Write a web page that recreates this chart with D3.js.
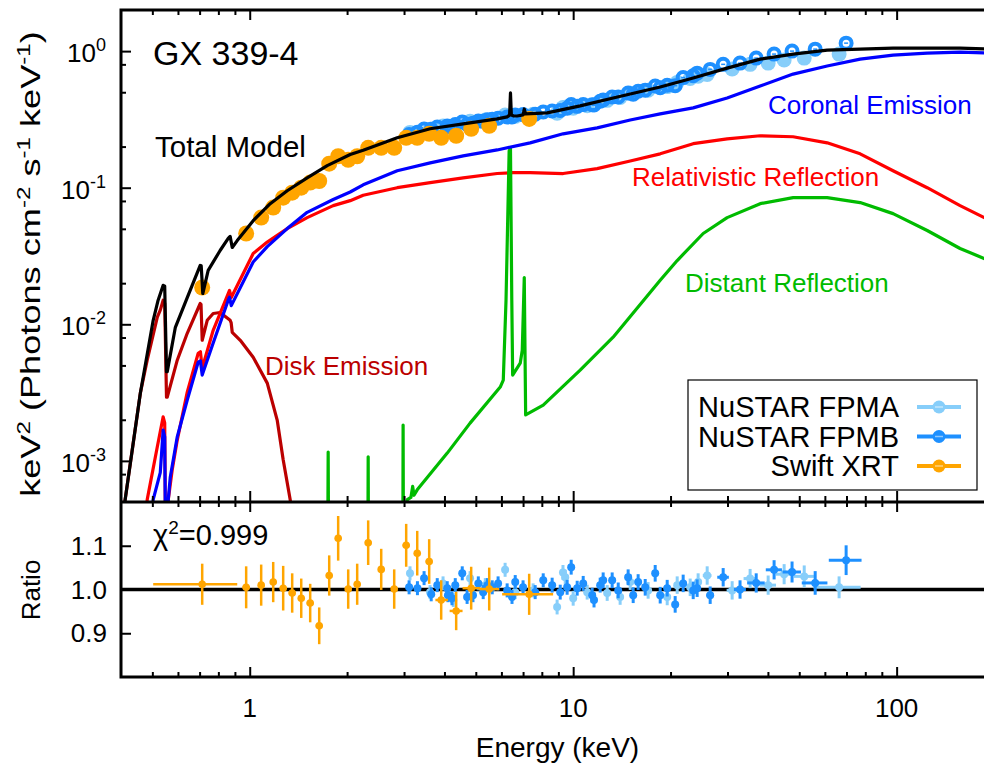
<!DOCTYPE html>
<meta charset="utf-8">
<script src="https://d3js.org/d3.v7.min.js"></script>
<style>
body { margin: 0; background: #fff; }
svg { display: block; }
text { font-family: "Liberation Sans", Arial, Helvetica, sans-serif; fill: #000; }
</style>
<div id="chart"></div>
<script>
// ---- model components, [energy keV, keV^2 photons cm^-2 s^-1 keV^-1] ----
const modelTotal = [
  [0.40, 3.0e-4], [0.412, 5.2e-4], [0.459, 3.13e-3], [0.503, 0.0107], [0.521, 0.0150],
  [0.540, 0.0193], [0.546, 0.0190], [0.553, 0.0045], [0.556, 0.0045], [0.589, 0.0095],
  [0.641, 0.0157], [0.703, 0.0270], [0.708, 0.0268], [0.716, 0.0168], [0.744, 0.0248],
  [0.810, 0.0347], [0.858, 0.0425], [0.870, 0.0440], [0.883, 0.0365], [0.915, 0.0410],
  [1.025, 0.0574], [1.157, 0.0764], [1.306, 0.0950], [1.505, 0.118], [1.736, 0.145],
  [2.045, 0.175], [2.243, 0.188], [2.858, 0.232], [3.614, 0.270], [4.571, 0.293],
  [5.822, 0.319], [6.25, 0.330], [6.36, 0.340], [6.40, 0.494], [6.44, 0.340],
  [6.55, 0.335], [6.71, 0.335], [7.00, 0.341], [7.06, 0.377], [7.12, 0.347],
  [8.31, 0.353], [10.51, 0.397], [13.29, 0.454], [18.58, 0.546], [23.50, 0.635],
  [29.92, 0.751], [37.86, 0.874], [47.86, 0.951], [60.99, 1.017], [77.13, 1.034],
  [97.5, 1.052], [124.3, 1.052], [157.1, 1.052], [200, 1.034]
];
const modelCoronal = [
  [0.495, 3.0e-4], [0.503, 5.2e-4], [0.529, 8.2e-4], [0.540, 1.68e-3], [0.546, 1.5e-3],
  [0.549, 3.0e-4], [0.556, 3.0e-4], [0.560, 5.2e-4], [0.568, 7.6e-4], [0.597, 1.50e-3],
  [0.641, 2.79e-3], [0.693, 5.28e-3], [0.704, 5.4e-3], [0.713, 4.25e-3], [0.771, 7.3e-3],
  [0.858, 0.0150], [0.866, 0.0158], [0.877, 0.0137], [1.025, 0.0286], [1.133, 0.0370],
  [1.306, 0.0502], [1.505, 0.0660], [1.812, 0.0820], [2.045, 0.0930], [2.243, 0.105],
  [2.858, 0.133], [3.614, 0.152], [4.571, 0.171], [5.822, 0.189], [7.36, 0.213],
  [9.31, 0.248], [11.86, 0.274], [15.01, 0.313], [18.58, 0.347], [23.50, 0.384],
  [29.92, 0.454], [37.86, 0.555], [47.86, 0.679], [60.99, 0.778], [77.13, 0.874],
  [97.5, 0.935], [124.3, 0.967], [157.1, 0.983], [200, 0.967]
];
const modelRelRefl = [
  [0.475, 3.0e-4], [0.482, 5.2e-4], [0.518, 1.27e-3], [0.540, 2.1e-3], [0.546, 1.9e-3],
  [0.549, 3.0e-4], [0.553, 3.0e-4], [0.560, 5.2e-4], [0.576, 8.6e-4], [0.597, 1.42e-3],
  [0.641, 3.19e-3], [0.693, 6.14e-3], [0.704, 6.3e-3], [0.713, 4.77e-3], [0.771, 9.04e-3],
  [0.858, 0.0168], [0.866, 0.0177], [0.877, 0.0157], [1.025, 0.0330], [1.133, 0.0400],
  [1.306, 0.0502], [1.505, 0.0604], [1.812, 0.0739], [2.045, 0.0804], [2.243, 0.0880],
  [2.858, 0.100], [3.614, 0.109], [4.571, 0.118], [5.822, 0.127], [6.52, 0.129],
  [7.36, 0.129], [9.31, 0.127], [11.86, 0.138], [15.01, 0.157], [18.58, 0.177],
  [23.50, 0.210], [29.92, 0.228], [37.86, 0.240], [47.86, 0.236], [60.99, 0.213],
  [77.13, 0.177], [97.5, 0.133], [124.3, 0.100], [157.1, 0.0739], [200, 0.0556]
];
const modelDistRefl = [
  [1.740, 1e-4], [1.748, 1.16e-3], [1.756, 1e-4],
  [2.316, 1e-4], [2.324, 1.07e-3], [2.332, 1e-4],
  [2.972, 1e-4], [2.980, 1.83e-3], [2.990, 1e-4],
  [3.05, 3.0e-4], [3.07, 5.2e-4], [3.15, 5.4e-4], [3.19, 6.5e-4], [3.22, 5.6e-4],
  [3.295, 6.14e-4], [4.08, 1.14e-3], [4.80, 1.89e-3], [5.95, 3.47e-3], [6.08, 3.90e-3],
  [6.20, 0.0150], [6.34, 0.186], [6.40, 0.193], [6.46, 0.0150], [6.50, 4.25e-3],
  [6.86, 5.19e-3], [6.96, 6.45e-3], [7.06, 0.0220], [7.13, 2.17e-3], [8.08, 2.56e-3],
  [10.51, 4.62e-3], [13.29, 8.04e-3], [18.58, 0.0210], [20.97, 0.0293], [25.23, 0.0462],
  [29.92, 0.0604], [37.86, 0.0764], [47.86, 0.0846], [60.99, 0.0846], [77.13, 0.0778],
  [97.5, 0.0646], [124.3, 0.0486], [157.1, 0.0359], [200, 0.0283]
];
const modelDisk = [
  [0.40, 3.0e-4], [0.412, 5.2e-4], [0.459, 3.13e-3], [0.482, 5.46e-3], [0.518, 0.0113],
  [0.529, 0.0127], [0.540, 0.0150], [0.546, 0.0142], [0.553, 2.93e-3], [0.556, 2.93e-3],
  [0.597, 5.46e-3], [0.641, 8.59e-3], [0.703, 0.0142], [0.707, 0.0140], [0.713, 7.64e-3],
  [0.739, 0.0107], [0.771, 0.0120], [0.810, 0.0122], [0.870, 0.0107], [0.876, 0.0103],
  [0.883, 8.74e-3], [0.935, 7.64e-3], [1.025, 5.74e-3], [1.133, 3.71e-3], [1.216, 1.99e-3],
  [1.269, 1.02e-3], [1.334, 5.2e-4], [1.36, 3.0e-4]
];

// ---- unfolded spectra, [energy, flux] ----
const swiftSpec = [
  [0.713, 0.0186], [0.975, 0.0462], [1.085, 0.0604], [1.182, 0.0715], [1.269, 0.0846],
  [1.353, 0.092], [1.443, 0.100], [1.538, 0.109], [1.640, 0.112], [1.761, 0.150],
  [1.877, 0.170], [2.016, 0.160], [2.149, 0.170], [2.324, 0.196], [2.550, 0.196],
  [2.797, 0.196], [3.046, 0.232], [3.295, 0.232], [3.588, 0.248], [3.908, 0.232],
  [4.348, 0.240], [4.838, 0.270], [5.501, 0.284], [7.311, 0.319]
];
const fpmaSpec = [
  [3.13, 0.254], [3.61, 0.268], [3.96, 0.283], [4.26, 0.279], [4.80, 0.306], [5.35, 0.313],
  [6.16, 0.340], [6.62, 0.333], [7.52, 0.345], [8.92, 0.351], [9.30, 0.386], [9.45, 0.388],
  [10.0, 0.382], [11.05, 0.398], [12.74, 0.436], [13.97, 0.457], [15.01, 0.491],
  [17.05, 0.517], [19.53, 0.550], [20.97, 0.590], [23.00, 0.630], [24.34, 0.655],
  [25.96, 0.675], [31.01, 0.740], [35.24, 0.800], [40.07, 0.817], [44.90, 0.860],
  [51.80, 0.889], [66.40, 0.951]
];
const fpmbSpec = [
  [3.11, 0.245], [3.30, 0.255], [3.46, 0.269], [3.64, 0.268], [3.80, 0.278], [4.08, 0.283],
  [4.10, 0.278], [4.22, 0.279], [4.32, 0.290], [4.54, 0.303], [4.70, 0.291], [4.90, 0.296],
  [5.09, 0.308], [5.27, 0.306], [5.43, 0.314], [5.62, 0.317], [5.86, 0.323], [6.25, 0.329],
  [6.47, 0.329], [6.62, 0.341], [7.00, 0.343], [7.63, 0.345], [8.08, 0.358], [8.61, 0.364],
  [9.12, 0.368], [9.58, 0.382], [9.86, 0.407], [10.29, 0.394], [10.74, 0.406],
  [11.45, 0.405], [11.60, 0.403], [12.12, 0.429], [12.38, 0.439], [13.20, 0.461],
  [13.78, 0.461], [14.79, 0.493], [15.33, 0.484], [15.88, 0.508], [16.70, 0.518],
  [17.93, 0.555], [18.58, 0.539], [19.53, 0.562], [20.67, 0.558], [21.88, 0.640],
  [23.50, 0.660], [24.17, 0.690], [26.52, 0.735], [29.09, 0.800], [32.80, 0.817],
  [36.80, 0.889], [41.80, 0.951], [47.50, 1.000], [56.00, 1.034], [69.80, 1.144]
];

// ---- data/model ratios ----
// swift: [E, Elow, Ehigh, ratio, err]
const swiftRatio = [
  [0.713, 0.503, 0.915, 1.012, 0.047], [0.975, 0.95, 1.00, 1.005, 0.048],
  [1.085, 1.06, 1.11, 1.010, 0.047], [1.182, 1.155, 1.21, 1.017, 0.046],
  [1.269, 1.24, 1.30, 1.003, 0.051], [1.353, 1.32, 1.385, 0.992, 0.045],
  [1.443, 1.41, 1.475, 0.980, 0.045], [1.538, 1.50, 1.575, 0.969, 0.044],
  [1.640, 1.60, 1.68, 0.917, 0.042], [1.761, 1.72, 1.80, 1.032, 0.046],
  [1.877, 1.835, 1.92, 1.117, 0.051], [2.016, 1.97, 2.06, 1.001, 0.045],
  [2.149, 2.10, 2.20, 1.012, 0.047], [2.324, 2.27, 2.38, 1.107, 0.051],
  [2.550, 2.49, 2.61, 1.046, 0.047], [2.797, 2.73, 2.86, 1.001, 0.045],
  [3.046, 2.97, 3.12, 1.101, 0.049], [3.295, 3.22, 3.37, 1.083, 0.051],
  [3.588, 3.50, 3.67, 1.064, 0.051], [3.908, 3.75, 4.10, 0.976, 0.045],
  [4.348, 4.15, 4.55, 0.951, 0.044], [4.838, 4.55, 5.15, 1.003, 0.049],
  [5.501, 5.10, 5.90, 1.001, 0.049], [7.311, 6.03, 8.67, 0.989, 0.047]
];
// nustar: [E, dE, ratio, err]
const fpmaRatio = [
  [3.13, 0.07, 1.037, 0.016], [3.61, 0.08, 0.994, 0.016], [3.96, 0.09, 1.014, 0.016],
  [4.26, 0.09, 0.976, 0.016], [4.80, 0.10, 1.026, 0.016], [5.35, 0.11, 1.010, 0.016],
  [6.16, 0.13, 1.045, 0.016], [6.62, 0.14, 0.994, 0.016], [7.52, 0.16, 0.998, 0.016],
  [8.92, 0.19, 0.960, 0.017], [9.30, 0.19, 1.039, 0.017], [9.45, 0.20, 1.028, 0.017],
  [10.0, 0.20, 0.980, 0.017], [11.05, 0.23, 0.994, 0.017], [12.74, 0.26, 0.992, 0.018],
  [13.97, 0.29, 0.983, 0.018], [15.01, 0.31, 1.017, 0.018], [17.05, 0.35, 0.998, 0.019],
  [19.53, 0.40, 0.983, 0.019], [20.97, 0.45, 1.010, 0.020], [23.00, 0.50, 1.005, 0.020],
  [24.34, 0.60, 1.017, 0.020], [25.96, 0.80, 1.032, 0.021], [31.01, 1.2, 0.998, 0.021],
  [35.24, 1.6, 1.025, 0.022], [40.07, 2.3, 1.010, 0.022], [44.90, 2.6, 1.035, 0.023],
  [51.80, 3.7, 1.030, 0.025], [66.40, 11.0, 1.005, 0.025]
];
const fpmbRatio = [
  [3.11, 0.06, 1.005, 0.016], [3.30, 0.07, 1.003, 0.016], [3.46, 0.07, 1.026, 0.016],
  [3.64, 0.08, 0.989, 0.016], [3.80, 0.08, 1.010, 0.016], [4.08, 0.09, 1.003, 0.016],
  [4.10, 0.09, 0.987, 0.016], [4.22, 0.09, 0.980, 0.016], [4.32, 0.09, 1.010, 0.016],
  [4.54, 0.10, 1.037, 0.016], [4.70, 0.10, 0.983, 0.016], [4.90, 0.10, 0.987, 0.016],
  [5.09, 0.11, 1.014, 0.016], [5.27, 0.11, 0.994, 0.016], [5.43, 0.11, 1.010, 0.016],
  [5.62, 0.12, 1.005, 0.016], [5.86, 0.12, 1.014, 0.016], [6.25, 0.13, 0.998, 0.016],
  [6.47, 0.13, 0.983, 0.016], [6.62, 0.14, 1.017, 0.016], [7.00, 0.15, 1.005, 0.016],
  [7.63, 0.16, 0.994, 0.016], [8.08, 0.17, 1.021, 0.016], [8.61, 0.18, 1.010, 0.017],
  [9.12, 0.19, 0.994, 0.017], [9.58, 0.20, 1.005, 0.017], [9.86, 0.20, 1.051, 0.017],
  [10.29, 0.21, 1.003, 0.017], [10.74, 0.22, 1.014, 0.017], [11.45, 0.24, 0.987, 0.017],
  [11.60, 0.24, 0.976, 0.017], [12.12, 0.25, 1.010, 0.017], [12.38, 0.26, 1.021, 0.018],
  [13.20, 0.27, 1.021, 0.018], [13.78, 0.29, 0.998, 0.018], [14.79, 0.31, 1.028, 0.018],
  [15.33, 0.32, 0.987, 0.018], [15.88, 0.33, 1.017, 0.018], [16.70, 0.35, 1.005, 0.019],
  [17.93, 0.37, 1.037, 0.019], [18.58, 0.39, 0.987, 0.019], [19.53, 0.41, 1.003, 0.019],
  [20.67, 0.45, 0.966, 0.019], [21.88, 0.50, 1.014, 0.020], [23.50, 0.55, 0.998, 0.020],
  [24.17, 0.60, 1.003, 0.020], [26.52, 0.70, 0.987, 0.020], [29.09, 1.2, 1.028, 0.021],
  [32.80, 1.4, 1.000, 0.021], [36.80, 2.3, 1.015, 0.022], [41.80, 2.4, 1.045, 0.022],
  [47.50, 3.1, 1.040, 0.024], [56.00, 5.1, 1.015, 0.027], [69.80, 8.1, 1.067, 0.034]
];

// ---- ticks ----
const xMajor = [1, 10, 100];
const xMinor = [0.5, 0.6, 0.7, 0.8, 0.9, 2, 3, 4, 5, 6, 7, 8, 9, 20, 30, 40, 50, 60, 70, 80, 90];
const yMajor = [1e-3, 1e-2, 1e-1, 1];
const yMajorExp = ["-3", "-2", "-1", "0"];
const yMinor = [8e-4, 2e-3, 5e-3, 8e-3, 0.02, 0.05, 0.08, 0.2, 0.5, 0.8];
const rTicks = [0.9, 1.0, 1.1];
const legendNames = ["NuSTAR FPMA", "NuSTAR FPMB", "Swift XRT"];

// ---- layout ----
const W = 984, H = 769;
const L = 121, R = 994, T = 10, M = 502, B = 677;
const cFPMA = "#87CEFA", cFPMB = "#1E90FF", cSwift = "#FFA500";

const svg = d3.select("#chart").append("svg")
  .attr("width", W).attr("height", H);

const x = d3.scaleLog().domain([0.4, 200]).range([L, R]);
const y = d3.scaleLog().domain([5e-4, 2]).range([M, T]);
const yr = d3.scaleLinear().domain([0.8, 1.2]).range([B, M]);

const defs = svg.append("defs");
defs.append("clipPath").attr("id", "clipTop")
  .append("rect").attr("x", L).attr("y", T).attr("width", R - L).attr("height", M - T);
defs.append("clipPath").attr("id", "clipBot")
  .append("rect").attr("x", L).attr("y", M).attr("width", R - L).attr("height", B - M);

// ---------------- spectrum panel ----------------
const gSpec = svg.append("g").attr("clip-path", "url(#clipTop)");

// data circles
gSpec.selectAll(".fa").data(fpmaSpec).join("circle")
  .attr("cx", d => x(d[0])).attr("cy", d => y(d[1])).attr("r", 7.5)
  .attr("fill", cFPMA);
const fb = gSpec.append("g");
fb.selectAll("circle").data(fpmbSpec).join("circle")
  .attr("cx", d => x(d[0])).attr("cy", d => y(d[1])).attr("r", 5.5)
  .attr("fill", "none").attr("stroke", cFPMB).attr("stroke-width", 4);
fb.selectAll("line").data(fpmbSpec).join("line")
  .attr("x1", d => x(d[0]) - 2).attr("x2", d => x(d[0]) + 2)
  .attr("y1", d => y(d[1])).attr("y2", d => y(d[1]))
  .attr("stroke", cFPMB).attr("stroke-width", 1.5);
gSpec.selectAll(".sw").data(swiftSpec).join("circle")
  .attr("cx", d => x(d[0])).attr("cy", d => y(d[1])).attr("r", 8)
  .attr("fill", cSwift);

const line = d3.line().x(d => x(d[0])).y(d => y(d[1]));
const models = [
  [modelDisk, "#BB0000"],
  [modelRelRefl, "#FF0000"],
  [modelDistRefl, "#00BB00"],
  [modelCoronal, "#0000FF"],
  [modelTotal, "#000000"]
];
gSpec.selectAll(".model").data(models).join("path")
  .attr("d", d => line(d[0]))
  .attr("fill", "none")
  .attr("stroke", d => d[1])
  .attr("stroke-width", 3.2)
  .attr("stroke-linejoin", "round");

// ---------------- ratio panel ----------------
const gRat = svg.append("g").attr("clip-path", "url(#clipBot)");
gRat.append("line")
  .attr("x1", L).attr("x2", R).attr("y1", yr(1)).attr("y2", yr(1))
  .attr("stroke", "#000").attr("stroke-width", 3.5);

function nuErr(data, color) {
  const g = gRat.append("g").attr("stroke", color).attr("fill", color).attr("stroke-width", 3);
  g.selectAll(".v").data(data).join("line")
    .attr("x1", d => x(d[0])).attr("x2", d => x(d[0]))
    .attr("y1", d => yr(d[2] - d[3])).attr("y2", d => yr(d[2] + d[3]));
  g.selectAll(".h").data(data).join("line")
    .attr("x1", d => x(d[0] - d[1])).attr("x2", d => x(d[0] + d[1]))
    .attr("y1", d => yr(d[2])).attr("y2", d => yr(d[2]));
  g.selectAll("circle").data(data).join("circle")
    .attr("cx", d => x(d[0])).attr("cy", d => yr(d[2])).attr("r", 4).attr("stroke", "none");
}
nuErr(fpmaRatio, cFPMA);
nuErr(fpmbRatio, cFPMB);

const sg = gRat.append("g").attr("stroke", cSwift).attr("fill", cSwift).attr("stroke-width", 2.5);
sg.selectAll(".v").data(swiftRatio).join("line")
  .attr("x1", d => x(d[0])).attr("x2", d => x(d[0]))
  .attr("y1", d => yr(d[3] - d[4])).attr("y2", d => yr(d[3] + d[4]));
sg.selectAll(".h").data(swiftRatio).join("line")
  .attr("x1", d => x(d[1])).attr("x2", d => x(d[2]))
  .attr("y1", d => yr(d[3])).attr("y2", d => yr(d[3]));
sg.selectAll("circle").data(swiftRatio).join("circle")
  .attr("cx", d => x(d[0])).attr("cy", d => yr(d[3])).attr("r", 3.8).attr("stroke", "none");

// ---------------- axes / ticks ----------------
function ticks(axis, vals, len, tr) {
  const g = svg.append("g").attr("transform", tr)
    .call(axis.tickValues(vals).tickSize(-len).tickSizeOuter(0).tickFormat(""));
  g.select(".domain").remove();
  g.selectAll(".tick line").attr("stroke", "#000").attr("stroke-width", 2);
}
// spectrum panel
ticks(d3.axisLeft(y), yMajor, 10, `translate(${L},0)`);
ticks(d3.axisLeft(y), yMinor, 5, `translate(${L},0)`);
ticks(d3.axisRight(y), yMajor, 10, `translate(${R},0)`);
ticks(d3.axisRight(y), yMinor, 5, `translate(${R},0)`);
ticks(d3.axisTop(x), xMajor, 10, `translate(0,${T})`);
ticks(d3.axisTop(x), xMinor, 5, `translate(0,${T})`);
ticks(d3.axisBottom(x), xMajor, 11, `translate(0,${M})`);
ticks(d3.axisBottom(x), xMinor, 6, `translate(0,${M})`);
// ratio panel
ticks(d3.axisTop(x), xMajor, 10, `translate(0,${M})`);
ticks(d3.axisTop(x), xMinor, 5, `translate(0,${M})`);
ticks(d3.axisBottom(x), xMajor, 10, `translate(0,${B})`);
ticks(d3.axisBottom(x), xMinor, 5, `translate(0,${B})`);
ticks(d3.axisLeft(yr), rTicks, 10, `translate(${L},0)`);
ticks(d3.axisRight(yr), rTicks, 10, `translate(${R},0)`);

// frame
const frame = svg.append("g").attr("stroke", "#000").attr("stroke-width", 3).attr("fill", "none");
frame.append("path").attr("d", `M${R},${T}H${L}V${B}H${R}`);
frame.append("path").attr("d", `M${L},${M}H${R}`);

// tick labels
const yl = svg.append("g").attr("font-size", 26).attr("text-anchor", "end");
yMajor.forEach((v, i) => {
  const t = yl.append("text").attr("x", 106).attr("y", y(v) + 11);
  t.append("tspan").text("10");
  t.append("tspan").attr("dy", -11).attr("font-size", 18).text(yMajorExp[i]);
});
svg.append("g").attr("font-size", 26).attr("text-anchor", "end")
  .selectAll("text").data(rTicks).join("text")
  .attr("x", 107).attr("y", d => yr(d) + 9)
  .text(d3.format(".1f"));
svg.append("g").attr("font-size", 26).attr("text-anchor", "middle")
  .selectAll("text").data(xMajor).join("text")
  .attr("x", d => x(d)).attr("y", 717)
  .text(d => d);

// axis titles
svg.append("text").attr("x", x(Math.sqrt(0.4 * 200))).attr("y", 757)
  .attr("text-anchor", "middle").attr("font-size", 28).text("Energy (keV)");

const yt = svg.append("text").attr("transform", "translate(40,264) rotate(-90) scale(1.34,1)")
  .attr("text-anchor", "middle").attr("font-size", 27);
yt.append("tspan").text("keV");
yt.append("tspan").attr("dy", -10).attr("font-size", 18).text("2");
yt.append("tspan").attr("dy", 10).text(" (Photons cm");
yt.append("tspan").attr("dy", -10).attr("font-size", 18).text("-2");
yt.append("tspan").attr("dy", 10).text(" s");
yt.append("tspan").attr("dy", -10).attr("font-size", 18).text("-1");
yt.append("tspan").attr("dy", 10).text(" keV");
yt.append("tspan").attr("dy", -10).attr("font-size", 18).text("-1");
yt.append("tspan").attr("dy", 10).text(")");

svg.append("text").attr("transform", "translate(40,590) rotate(-90)")
  .attr("text-anchor", "middle").attr("font-size", 26).text("Ratio");

// annotations
svg.append("text").attr("x", 153).attr("y", 65).attr("font-size", 34).text("GX 339-4");
svg.append("text").attr("x", 155).attr("y", 157).attr("font-size", 29.5).text("Total Model");
svg.append("text").attr("x", 768).attr("y", 114).attr("font-size", 26)
  .style("fill", "#0000FF").text("Coronal Emission");
svg.append("text").attr("x", 632).attr("y", 186).attr("font-size", 26)
  .style("fill", "#FF0000").text("Relativistic Reflection");
svg.append("text").attr("x", 685).attr("y", 292).attr("font-size", 26)
  .style("fill", "#00BB00").text("Distant Reflection");
svg.append("text").attr("x", 265).attr("y", 375).attr("font-size", 26)
  .style("fill", "#BB0000").text("Disk Emission");

const chi = svg.append("text").attr("x", 153).attr("y", 545).attr("font-size", 29);
chi.append("tspan").text("χ");
chi.append("tspan").attr("dy", -11).attr("font-size", 19).text("2");
chi.append("tspan").attr("dy", 11).text("=0.999");

// legend
const lg = svg.append("g");
lg.append("rect").attr("x", 688).attr("y", 380).attr("width", 289).attr("height", 110)
  .attr("fill", "#fff").attr("stroke", "#000").attr("stroke-width", 1.2);
const lgColors = [cFPMA, cFPMB, cSwift];
legendNames.forEach((name, i) => {
  const cy = 407 + i * 29.5;
  lg.append("text").attr("x", 899).attr("y", cy + 10).attr("text-anchor", "end")
    .attr("font-size", 29).text(name);
  lg.append("line").attr("x1", 917).attr("x2", 961).attr("y1", cy).attr("y2", cy)
    .attr("stroke", lgColors[i]).attr("stroke-width", 4);
  lg.append("circle").attr("cx", 939).attr("cy", cy).attr("r", 6.5).attr("fill", lgColors[i]);
  lg.append("line").attr("x1", 935).attr("x2", 943).attr("y1", cy).attr("y2", cy)
    .attr("stroke", "#fff").attr("stroke-opacity", 0.5).attr("stroke-width", 1.5);
});
</script>
